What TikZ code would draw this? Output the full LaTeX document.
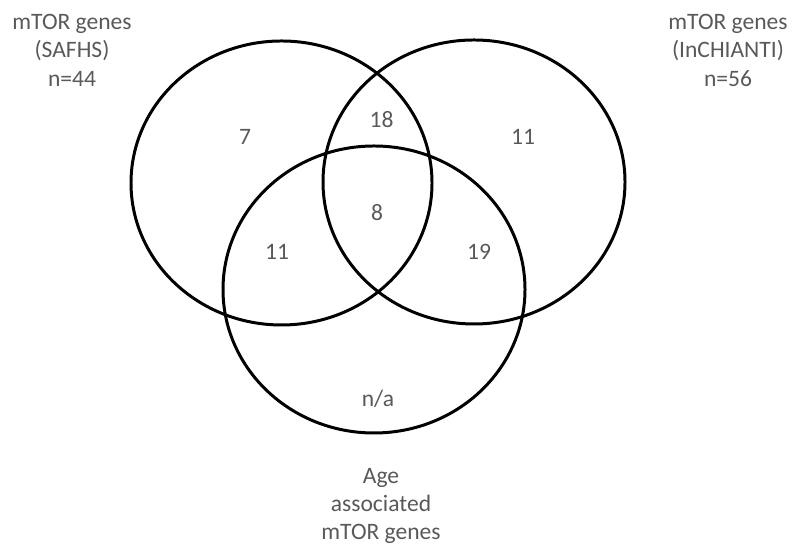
\documentclass[tikz,border=0pt]{standalone}
\usepackage{fontspec}
\setmainfont{Carlito}
\usepackage{xcolor}
\definecolor{labelgray}{HTML}{595959}
\tikzset{ring/.style={draw=black, line width=0.85pt},
 count/.style={text=labelgray, inner sep=0pt, font=\fontsize{6.7}{8.1}\selectfont},
 setname/.style={count, align=center},
 }

\begin{document}
\begin{tikzpicture}
        \useasboundingbox (0, 0) rectangle (8, 5.55);
        \draw [ring] (2.815, 3.72) ellipse (1.505 and 1.42);
        \draw [ring] (4.74, 3.73) ellipse (1.51 and 1.42);
        \draw [ring] (3.74, 2.655) ellipse (1.51 and 1.435);
        \node (only7) [count] at (2.45, 4.18) {7};
        \node (sh18) [count] at (3.815, 4.355) {18};
        \node (only11) [count] at (5.23, 4.18) {11};
        \node (all8) [count] at (3.77, 3.42) {8};
        \node (sa11) [count] at (2.77, 3.03) {11};
        \node (ia19) [count] at (4.79, 3.03) {19};
        \node (agena) [count] at (3.78, 1.56) {n/a};
        \node (safhs) [setname] at (.72, 5.05) {mTOR genes\\(SAFHS)\\n=44};
        \node (chianti) [setname] at (7.28, 5.05) {mTOR genes\\(InCHIANTI)\\n=56};
        \node (age) [setname] at (3.81, .49) {Age\\associated\\mTOR genes};
    \end{tikzpicture}
\end{document}
